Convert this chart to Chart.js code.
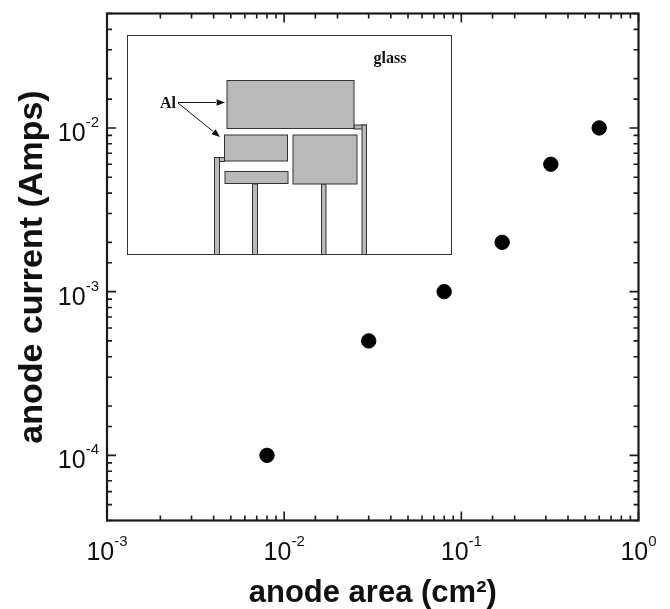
<!DOCTYPE html>
<html>
<head>
<meta charset="utf-8">
<title>anode current vs anode area</title>
<script src="https://cdn.jsdelivr.net/npm/chart.js@4/dist/chart.umd.min.js"></script>
<style>
    html, body { margin: 0; padding: 0; background: #fff; }
    canvas { display: block; }
</style>
</head>
<body>
<canvas id="anodeChart" width="670" height="609"></canvas>
<script>
// Values
const anodeArea = [0.008, 0.03, 0.08, 0.17, 0.32, 0.6];
const anodeCurrent = [1e-4, 5e-4, 1e-3, 2e-3, 6e-3, 1e-2];

const xExponents = [-3, -2, -1, 0];
const yExponents = [-4, -3, -2];

const xTitle = 'anode area (cm\u00B2)';
const yTitle = 'anode current (Amps)';

// Inset schematic, in canvas pixels: [x, y, w, h]
const insetBox = [127.5, 35.5, 324, 219];
const insetPads = [
    [227, 80.5, 127, 48],
    [224.5, 135, 63, 26],
    [225, 171.5, 63, 12],
    [293, 135, 64, 49]
];
const insetLeads = [
    [214.5, 157.5, 10, 4],
    [354, 125, 12.5, 4],
    [214.5, 157.5, 5, 97],
    [252.5, 184, 5, 70.5],
    [321.5, 184, 4.5, 70.5],
    [362, 125, 4.5, 129.5]
];

// Hộp khung và vạch chia hướng vào trong, giống biểu đồ gốc
function drawTicks(chart) {
    const ctx = chart.ctx;
    const area = chart.chartArea;
    ctx.save();
    ctx.strokeStyle = '#1a1a1a';
    ctx.lineWidth = 1.6;
    ctx.beginPath();
    chart.scales.x.ticks.forEach(function (tick) {
        const px = chart.scales.x.getPixelForValue(tick.value);
        const len = tick.major ? 9 : 5;
        ctx.moveTo(px, area.bottom);
        ctx.lineTo(px, area.bottom - len);
        ctx.moveTo(px, area.top);
        ctx.lineTo(px, area.top + len);
    });
    chart.scales.y.ticks.forEach(function (tick) {
        const py = chart.scales.y.getPixelForValue(tick.value);
        const len = tick.major ? 9 : 5;
        ctx.moveTo(area.left, py);
        ctx.lineTo(area.left + len, py);
        ctx.moveTo(area.right, py);
        ctx.lineTo(area.right - len, py);
    });
    ctx.stroke();
    ctx.lineWidth = 2.2;
    ctx.strokeRect(area.left, area.top, area.right - area.left, area.bottom - area.top);
    ctx.restore();
}

// Nhãn dạng 10 mũ n
function drawPowerLabel(ctx, exponent, x, y, alignRight) {
    const base = '10';
    const sup = String(exponent);
    ctx.font = '25px "Liberation Sans", Arial, sans-serif';
    const baseWidth = ctx.measureText(base).width;
    ctx.font = '15px "Liberation Sans", Arial, sans-serif';
    const supWidth = ctx.measureText(sup).width;
    const left = alignRight ? x - baseWidth - supWidth : x - (baseWidth + supWidth) / 2;
    ctx.textAlign = 'left';
    ctx.textBaseline = 'alphabetic';
    ctx.fillText(sup, left + baseWidth, y - 14);
    ctx.font = '25px "Liberation Sans", Arial, sans-serif';
    ctx.fillText(base, left, y);
}

function drawTickLabels(chart) {
    const ctx = chart.ctx;
    ctx.save();
    ctx.fillStyle = '#111';
    xExponents.forEach(function (e) {
        drawPowerLabel(ctx, e, chart.scales.x.getPixelForValue(Math.pow(10, e)), 560, false);
    });
    yExponents.forEach(function (e) {
        drawPowerLabel(ctx, e, 99, chart.scales.y.getPixelForValue(Math.pow(10, e)) + 13, true);
    });
    ctx.restore();
}

function drawArrow(ctx, x1, y1, x2, y2) {
    const angle = Math.atan2(y2 - y1, x2 - x1);
    const headLen = 9;
    ctx.beginPath();
    ctx.moveTo(x1, y1);
    ctx.lineTo(x2 - Math.cos(angle) * headLen, y2 - Math.sin(angle) * headLen);
    ctx.stroke();
    ctx.beginPath();
    ctx.moveTo(x2, y2);
    ctx.lineTo(x2 - headLen * Math.cos(angle - 0.38), y2 - headLen * Math.sin(angle - 0.38));
    ctx.lineTo(x2 - headLen * Math.cos(angle + 0.38), y2 - headLen * Math.sin(angle + 0.38));
    ctx.closePath();
    ctx.fill();
}

function drawInset(chart) {
    const ctx = chart.ctx;
    ctx.save();
    ctx.strokeStyle = '#333';
    ctx.lineWidth = 1;
    ctx.strokeRect(insetBox[0], insetBox[1], insetBox[2], insetBox[3]);
    ctx.fillStyle = '#b9b9b9';
    insetLeads.concat(insetPads).forEach(function (r) {
        ctx.fillRect(r[0], r[1], r[2], r[3]);
        ctx.strokeRect(r[0], r[1], r[2], r[3]);
    });
    ctx.fillStyle = '#111';
    ctx.font = 'bold 16px "Liberation Serif", "Times New Roman", serif';
    ctx.textAlign = 'left';
    ctx.textBaseline = 'alphabetic';
    ctx.fillText('glass', 373.5, 62.5);
    ctx.fillText('Al', 160, 107.5);
    ctx.strokeStyle = '#111';
    drawArrow(ctx, 178, 102.5, 225, 102.5);
    drawArrow(ctx, 178, 103, 220, 137);
    ctx.restore();
}

const frameAndInset = {
    id: 'frameAndInset',
    beforeDatasetsDraw: function (chart) {
        drawInset(chart);
        drawTicks(chart);
        drawTickLabels(chart);
    }
};

new Chart(document.getElementById('anodeChart').getContext('2d'), {
    type: 'scatter',
    data: {
        datasets: [{
            label: 'anode current',
            data: anodeArea.map(function (a, i) { return { x: a, y: anodeCurrent[i] }; }),
            backgroundColor: '#000',
            borderColor: '#000',
            pointRadius: 7.2,
            pointHoverRadius: 7.2
        }]
    },
    options: {
        responsive: false,
        animation: false,
        layout: { padding: { left: 0, right: 31.5, top: 13.5, bottom: 0 } },
        plugins: { legend: { display: false }, tooltip: { enabled: false } },
        scales: {
            x: {
                type: 'logarithmic',
                min: 1e-3,
                max: 1,
                grid: { display: false },
                border: { display: false },
                ticks: { display: false },
                title: {
                    display: true,
                    text: xTitle,
                    color: '#111',
                    font: { family: '"Liberation Sans", Arial, sans-serif', size: 31, weight: 'bold' },
                    padding: { top: 0, bottom: -3 }
                },
                afterFit: function (scale) { scale.height = 88.5; }
            },
            y: {
                type: 'logarithmic',
                min: 4e-5,
                max: 0.05,
                grid: { display: false },
                border: { display: false },
                ticks: { display: false },
                title: {
                    display: true,
                    text: yTitle,
                    color: '#111',
                    font: { family: '"Liberation Sans", Arial, sans-serif', size: 34, weight: 'bold' },
                    padding: { top: 12, bottom: 0 }
                },
                afterFit: function (scale) { scale.width = 107; }
            }
        }
    },
    plugins: [frameAndInset]
});
</script>
</body>
</html>
